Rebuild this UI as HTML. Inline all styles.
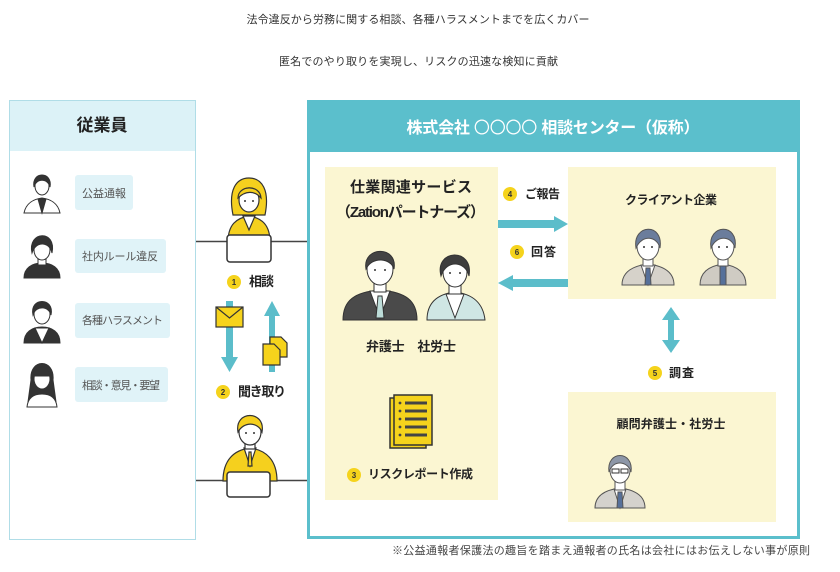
<!DOCTYPE html>
<html><head><meta charset="utf-8"><style>
html,body{margin:0;padding:0;background:#fff;}
svg{display:block;}
text{font-family:"Liberation Sans","Noto Sans CJK JP",sans-serif;}
</style></head><body>
<svg width="840" height="572" viewBox="0 0 840 572" xmlns="http://www.w3.org/2000/svg">
<rect width="840" height="572" fill="#fff"/>
<!-- top text -->
<text x="418" y="23" font-size="11" fill="#333" text-anchor="middle" textLength="343" lengthAdjust="spacing">法令違反から労務に関する相談、各種ハラスメントまでを広くカバー</text>
<text x="418.5" y="65" font-size="11" fill="#333" text-anchor="middle" textLength="279" lengthAdjust="spacing">匿名でのやり取りを実現し、リスクの迅速な検知に貢献</text>

<!-- left panel -->
<rect x="9.5" y="100.5" width="186" height="439" fill="#fff" stroke="#b0dde7" stroke-width="1"/>
<rect x="10" y="101" width="185" height="50" fill="#dcf2f7"/>
<text x="102" y="131" font-size="17" font-weight="bold" fill="#222" text-anchor="middle">従業員</text>

<rect x="75" y="175" width="58" height="35" rx="3" fill="#e0f3f8"/>
<text x="82" y="197" font-size="11" fill="#555" textLength="44" lengthAdjust="spacing">公益通報</text>
<rect x="75" y="239" width="91" height="34" rx="3" fill="#e0f3f8"/>
<text x="82" y="260" font-size="11" fill="#555" textLength="76" lengthAdjust="spacing">社内ルール違反</text>
<rect x="75" y="303" width="95" height="35" rx="3" fill="#e0f3f8"/>
<text x="82" y="324" font-size="11" fill="#555" textLength="81" lengthAdjust="spacing">各種ハラスメント</text>
<rect x="75" y="367" width="93" height="35" rx="3" fill="#e0f3f8"/>
<text x="82" y="389" font-size="11" fill="#555" textLength="78" lengthAdjust="spacing">相談・意見・要望</text>

<!-- left avatars -->
<g stroke="#333" stroke-width="1">
  <path d="M24,213 C26,203 34,199 42,198 C50,199 58,203 60,213 Z" fill="#fff"/>
  <path d="M38,199 L42,213 L46,199 Z" fill="#333"/>
  <ellipse cx="42" cy="186" rx="7" ry="9" fill="#fff"/>
  <path d="M34,187 C31,171 53,171 50,187 C48,178 36,178 34,187 Z" fill="#333"/>
  <path d="M24,278 C24,268 32,263 42,263 C52,263 60,268 60,278 Z" fill="#333"/>
  <rect x="38" y="258" width="8" height="7" fill="#fff"/>
  <ellipse cx="42" cy="250" rx="8" ry="10" fill="#fff"/>
  <path d="M32,253 C27,231 57,229 52,253 C50,242 36,240 32,253 Z" fill="#333"/>
  <path d="M24,343 C24,332 32,327 42,327 C52,327 60,332 60,343 Z" fill="#333"/>
  <path d="M35,328 L42,343 L49,328 Z" fill="#fff"/>
  <ellipse cx="42" cy="314" rx="8" ry="10" fill="#fff"/>
  <path d="M33,315 C29,297 55,297 51,315 C49,306 36,305 33,315 Z" fill="#333"/>
  <path d="M31,380 C29,358 55,358 53,380 L56,402 L28,402 Z" fill="#333"/>
  <path d="M27,407 C28,397 34,394 42,394 C50,394 56,397 57,407 Z" fill="#fff"/>
  <ellipse cx="42" cy="379" rx="8" ry="10" fill="#fff"/>
  <path d="M34,376 C33,364 51,364 50,376 Z" fill="#333"/>
</g>

<!-- middle lines -->
<line x1="196" y1="241.5" x2="307" y2="241.5" stroke="#444" stroke-width="1.5"/>
<line x1="196" y1="480.5" x2="307" y2="480.5" stroke="#444" stroke-width="1.5"/>

<!-- woman operator -->
<g stroke="#333" stroke-width="1.2">
  <path d="M233,215 C228,190 236,178 249,178 C262,178 270,190 265,215 Z" fill="#f5d01e"/>
  <path d="M228,242 C228,225 236,218 249,216 C262,218 270,225 270,242 Z" fill="#f5d01e"/>
  <path d="M243,216 L249,230 L255,216 Z" fill="#fff"/>
  <ellipse cx="249" cy="200" rx="10" ry="12" fill="#fff"/>
  <path d="M238,198 C238,185 260,184 261,198 C255,191 246,190 238,198 Z" fill="#f5d01e"/>
  <rect x="227" y="235" width="44" height="27" rx="3" fill="#fff" stroke-width="1.5"/>
</g>
<circle cx="245" cy="201" r="1" fill="#333"/><circle cx="253" cy="201" r="1" fill="#333"/>

<!-- envelope & down arrow -->
<path d="M226,301 H233 V357 H238 L229.5,372 L221,357 H226 Z" fill="#5bbdca"/>
<rect x="216" y="307" width="27" height="20" fill="#f6d31c" stroke="#333" stroke-width="1.2"/>
<polyline points="216,307 229.5,318 243,307" fill="none" stroke="#333" stroke-width="1.2"/>
<!-- up arrow & docs -->
<path d="M272,301 L280,316 H275 V372 H269 V316 H264 Z" fill="#5bbdca"/>
<g stroke="#333" stroke-width="1.2" fill="#f6d31c">
  <path d="M270,337 H281 L287,343 V357 H270 Z"/>
  <path d="M263,344 H274 L280,350 V365 H263 Z"/>
</g>

<!-- man operator -->
<g stroke="#333" stroke-width="1.2">
  <path d="M223,481 C223,460 234,450 250,448 C266,450 277,460 277,481 Z" fill="#f5d01e"/>
  <path d="M244,448 L250,466 L256,448 Z" fill="#fff"/>
  <path d="M249,452 L251,452 L252,466 L248,466 Z" fill="#f5d01e"/>
  <rect x="245" y="440" width="10" height="9" fill="#fff"/>
  <ellipse cx="250" cy="432" rx="11" ry="13" fill="#fff"/>
  <path d="M238,432 C234,410 266,410 262,432 C258,422 244,421 238,432 Z" fill="#f5d01e"/>
  <rect x="227" y="472" width="43" height="25" rx="3" fill="#fff" stroke-width="1.5"/>
</g>
<circle cx="246" cy="433" r="1" fill="#333"/><circle cx="254" cy="433" r="1" fill="#333"/>

<!-- badges 1,2 -->
<circle cx="234" cy="282" r="7" fill="#f5d31c"/><text x="234" y="285" font-size="8" font-weight="bold" fill="#333" text-anchor="middle">1</text>
<text x="249" y="286" font-size="13" font-weight="bold" fill="#222" textLength="25" lengthAdjust="spacing">相談</text>
<circle cx="223" cy="392" r="7" fill="#f5d31c"/><text x="223" y="395" font-size="8" font-weight="bold" fill="#333" text-anchor="middle">2</text>
<text x="238" y="396" font-size="13" font-weight="bold" fill="#222" textLength="48" lengthAdjust="spacing">聞き取り</text>

<!-- right panel -->
<rect x="308.5" y="101.5" width="490" height="436" fill="#fff" stroke="#5bbfcc" stroke-width="3"/>
<rect x="307" y="100" width="493" height="52" fill="#5bbfcc"/>
<text x="553" y="133" font-size="16" font-weight="bold" fill="#fff" text-anchor="middle" textLength="293" lengthAdjust="spacing">株式会社 <tspan font-family="Noto Sans CJK JP, sans-serif" font-weight="normal">〇〇〇〇</tspan> 相談センター（仮称）</text>

<rect x="325" y="167" width="173" height="333" fill="#fbf6d2"/>
<rect x="568" y="167" width="208" height="132" fill="#fbf6d2"/>
<rect x="568" y="392" width="208" height="130" fill="#fbf6d2"/>

<text x="411" y="192" font-size="15" font-weight="bold" fill="#222" text-anchor="middle" textLength="122" lengthAdjust="spacing">仕業関連サービス</text>
<text x="410.5" y="217" font-size="15" font-weight="bold" fill="#222" text-anchor="middle" textLength="149" lengthAdjust="spacing">（Zationパートナーズ）</text>

<!-- Zation people -->
<g stroke="#333" stroke-width="1">
  <path d="M343,320 C343,300 355,292 380,290 C405,292 417,300 417,320 Z" fill="#4a4a4a"/>
  <path d="M370,291 L380,318 L390,291 Z" fill="#fff"/>
  <path d="M378,296 L382,296 L384,318 L376,318 Z" fill="#bcdcd8"/>
  <rect x="374" y="281" width="12" height="11" fill="#fff"/>
  <ellipse cx="380" cy="269" rx="13" ry="16" fill="#fff"/>
  <path d="M366,269 C362,246 398,245 394,269 C391,258 372,256 366,269 Z" fill="#444"/>
  <path d="M427,320 C427,302 438,294 455,292 C472,294 483,302 485,320 Z" fill="#cfe6e4"/>
  <path d="M446,294 L455,318 L464,294 Z" fill="#fff"/>
  <rect x="449" y="284" width="12" height="10" fill="#fff"/>
  <ellipse cx="455" cy="272" rx="12" ry="15" fill="#fff"/>
  <path d="M441,276 C434,249 474,247 469,276 C466,262 447,258 441,276 Z" fill="#3d3d3d"/>
</g>
<g fill="#333">
  <circle cx="375" cy="270" r="1"/><circle cx="385" cy="270" r="1"/>
  <circle cx="450" cy="273" r="1"/><circle cx="460" cy="273" r="1"/>
</g>
<text x="411" y="351" font-size="13" font-weight="bold" fill="#222" text-anchor="middle" textLength="90" lengthAdjust="spacing">弁護士　社労士</text>

<!-- report doc -->
<g stroke="#333" stroke-width="1.5">
  <rect x="390" y="398" width="36" height="50" fill="#f5d31c"/>
  <rect x="394" y="395" width="38" height="50" fill="#f5d31c"/>
</g>
<g fill="#444">
  <circle cx="400" cy="403" r="1.4"/><rect x="405" y="401.5" width="22" height="3"/>
  <circle cx="400" cy="411" r="1.4"/><rect x="405" y="409.5" width="22" height="3"/>
  <circle cx="400" cy="419" r="1.4"/><rect x="405" y="417.5" width="22" height="3"/>
  <circle cx="400" cy="427" r="1.4"/><rect x="405" y="425.5" width="22" height="3"/>
  <circle cx="400" cy="435" r="1.4"/><rect x="405" y="433.5" width="22" height="3"/>
</g>
<circle cx="354" cy="475" r="7" fill="#f5d31c"/><text x="354" y="478" font-size="8" font-weight="bold" fill="#333" text-anchor="middle">3</text>
<text x="368" y="478" font-size="12" font-weight="bold" fill="#222" textLength="105" lengthAdjust="spacing">リスクレポート作成</text>

<!-- arrows 4/6 -->
<path d="M498,220 H554 V216 L568,224 L554,232 V228 H498 Z" fill="#5bbdca"/>
<path d="M568,279 H513 V275 L498,283 L513,291 V287 H568 Z" fill="#5bbdca"/>
<circle cx="510" cy="194" r="7" fill="#f5d31c"/><text x="510" y="197" font-size="8" font-weight="bold" fill="#333" text-anchor="middle">4</text>
<text x="525" y="198" font-size="12" font-weight="bold" fill="#222" textLength="35" lengthAdjust="spacing">ご報告</text>
<circle cx="517" cy="252" r="7" fill="#f5d31c"/><text x="517" y="255" font-size="8" font-weight="bold" fill="#333" text-anchor="middle">6</text>
<text x="531" y="256" font-size="12" font-weight="bold" fill="#222" textLength="25" lengthAdjust="spacing">回答</text>

<!-- client -->
<text x="671" y="204" font-size="12" font-weight="bold" fill="#222" text-anchor="middle" textLength="92" lengthAdjust="spacing">クライアント企業</text>
<g stroke="#555" stroke-width="1">
  <path d="M622,285 C622,272 632,266 648,264 C664,266 674,272 674,285 Z" fill="#d6d2ca"/>
  <path d="M641,265 L648,285 L655,265 Z" fill="#fff"/>
  <path d="M646,268 L650,268 L651,285 L645,285 Z" fill="#56709a"/>
  <rect x="643" y="257" width="10" height="9" fill="#fff"/>
  <ellipse cx="648" cy="246" rx="11" ry="14" fill="#fff"/>
  <path d="M636,248 C632,224 664,222 660,248 C657,236 642,234 636,248 Z" fill="#6b7d9c"/>
  <path d="M700,285 C700,272 709,266 723,264 C737,266 746,272 746,285 Z" fill="#cfcbc3"/>
  <rect x="720" y="266" width="6" height="19" fill="#56709a"/>
  <rect x="718" y="257" width="10" height="9" fill="#fff"/>
  <ellipse cx="723" cy="246" rx="11" ry="14" fill="#fff"/>
  <path d="M711,248 C707,224 739,222 735,248 C732,236 717,234 711,248 Z" fill="#6b7d9c"/>
</g>
<g fill="#333">
  <circle cx="644" cy="247" r="1"/><circle cx="652" cy="247" r="1"/>
  <circle cx="719" cy="247" r="1"/><circle cx="727" cy="247" r="1"/>
</g>

<!-- investigate arrow -->
<path d="M671,307 L680,320 H674 V340 H680 L671,353 L662,340 H668 V320 H662 Z" fill="#5bbdca"/>
<circle cx="655" cy="373" r="7" fill="#f5d31c"/><text x="655" y="376" font-size="8" font-weight="bold" fill="#333" text-anchor="middle">5</text>
<text x="669" y="377" font-size="12" font-weight="bold" fill="#222" textLength="25" lengthAdjust="spacing">調査</text>

<!-- advisor -->
<text x="671" y="428" font-size="12" font-weight="bold" fill="#222" text-anchor="middle" textLength="109" lengthAdjust="spacing">顧問弁護士・社労士</text>
<g stroke="#555" stroke-width="1">
  <path d="M595,508 C595,496 604,490 620,488 C636,490 645,496 645,508 Z" fill="#d4d2cd"/>
  <path d="M614,489 L620,508 L626,489 Z" fill="#fff"/>
  <path d="M618,492 L622,492 L623,508 L617,508 Z" fill="#56709a"/>
  <rect x="615" y="481" width="10" height="9" fill="#fff"/>
  <ellipse cx="620" cy="470" rx="10" ry="13" fill="#fff"/>
  <path d="M609,472 C606,450 634,450 631,472 C628,461 613,459 609,472 Z" fill="#8d97a8"/>
  <rect x="612" y="469" width="7" height="4" fill="none" stroke="#333"/>
  <rect x="621" y="469" width="7" height="4" fill="none" stroke="#333"/>
</g>

<!-- footnote -->
<text x="392" y="554" font-size="11" fill="#444" textLength="418" lengthAdjust="spacing">※公益通報者保護法の趣旨を踏まえ通報者の氏名は会社にはお伝えしない事が原則</text>
</svg>
</body></html>
